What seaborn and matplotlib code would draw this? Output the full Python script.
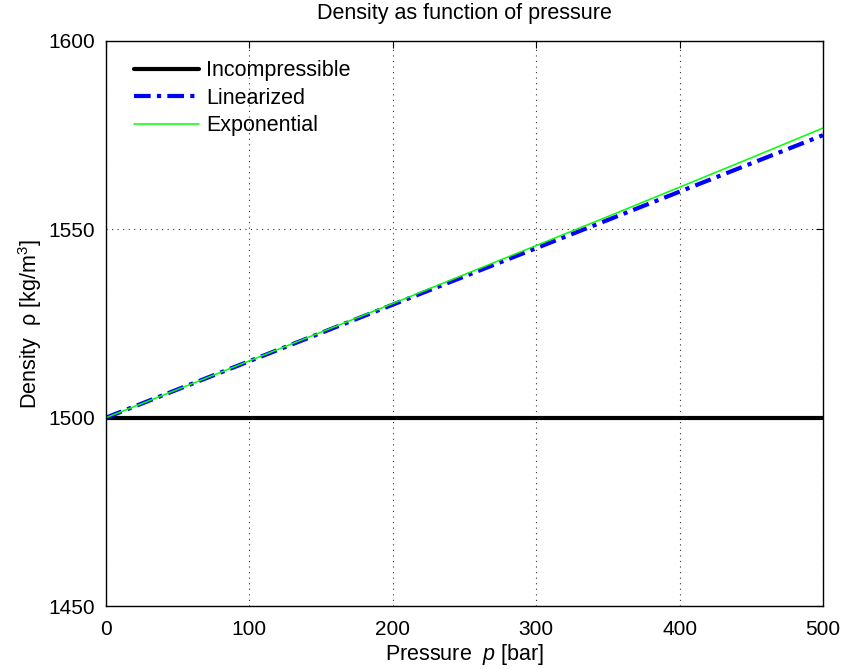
import numpy as np
import pandas as pd
import matplotlib
matplotlib.use("Agg")
import matplotlib.pyplot as plt
import seaborn as sns

# Values
pressure = [0, 50, 100, 150, 200, 250, 300, 350, 400, 450, 500]
rho_incompressible = [1500, 1500, 1500, 1500, 1500, 1500, 1500, 1500, 1500, 1500, 1500]
rho_linearized = [1500, 1507.5, 1515, 1522.5, 1530, 1537.5, 1545, 1552.5, 1560, 1567.5, 1575]
rho_exponential = [1500, 1507.5, 1515.1, 1522.7, 1530.3, 1538.0, 1545.7, 1553.4, 1561.2, 1569.0, 1576.9]

series_names = ["Incompressible", "Linearized", "Exponential"]
x_ticks = [0, 100, 200, 300, 400, 500]
y_ticks = [1450, 1500, 1550, 1600]

df = pd.DataFrame({
    "p": pressure * 3,
    "rho": rho_incompressible + rho_linearized + rho_exponential,
    "model": sum([[n] * len(pressure) for n in series_names], []),
})

sns.set_style("white")
plt.rcParams["font.family"] = ["Liberation Sans", "DejaVu Sans"]
plt.rcParams["mathtext.fontset"] = "custom"
plt.rcParams["mathtext.rm"] = "Liberation Sans"
plt.rcParams["mathtext.it"] = "Liberation Sans:italic"
plt.rcParams["text.color"] = "black"
plt.rcParams["axes.labelcolor"] = "black"

fig = plt.figure(figsize=(8.45, 6.69), dpi=100)
ax = fig.add_axes([106 / 845, 1 - 606 / 669, (823 - 106) / 845, (606 - 41) / 669])

palette = {"Incompressible": "black", "Linearized": "#0000ff", "Exponential": "#00ff00"}
widths = {"Incompressible": 3.0, "Linearized": 3.0, "Exponential": 1.1}
dash_patterns = {"Incompressible": "", "Linearized": (4, 1.5, 1, 1.5), "Exponential": ""}

sns.lineplot(data=df, x="p", y="rho", hue="model", style="model",
             hue_order=series_names, style_order=series_names,
             palette=palette, dashes=dash_patterns, ax=ax)

for line, name in zip(ax.get_lines(), series_names):
    line.set_linewidth(widths[name])

ax.set_xlim(0, 500)
ax.set_ylim(1450, 1600)
ax.set_xticks(x_ticks)
ax.set_yticks(y_ticks)
ax.grid(True, linestyle=(0, (1, 4)), color="#333333", linewidth=0.8)
ax.tick_params(direction="in", length=5, labelsize=15, colors="black",
               top=True, right=True, pad=8)
ax.tick_params(axis="x", pad=10)
for s in ax.spines.values():
    s.set_color("black")
    s.set_linewidth(1.0)

ax.set_title("Density as function of pressure", fontsize=15.5, pad=16)
ax.set_xlabel("Pressure  $p$ [bar]", fontsize=15.5, labelpad=2)
ax.set_ylabel("Density  ρ [kg/m$^3$]", fontsize=15.5, labelpad=3)

handles = ax.get_lines()[:3]
ax.legend(handles, series_names, loc="upper left", frameon=False, fontsize=15.5,
          handlelength=3.0, handletextpad=0.35, labelspacing=0.3,
          borderaxespad=0.5, bbox_to_anchor=(0.012, 1.0))

fig.savefig("out.png", dpi=100)
